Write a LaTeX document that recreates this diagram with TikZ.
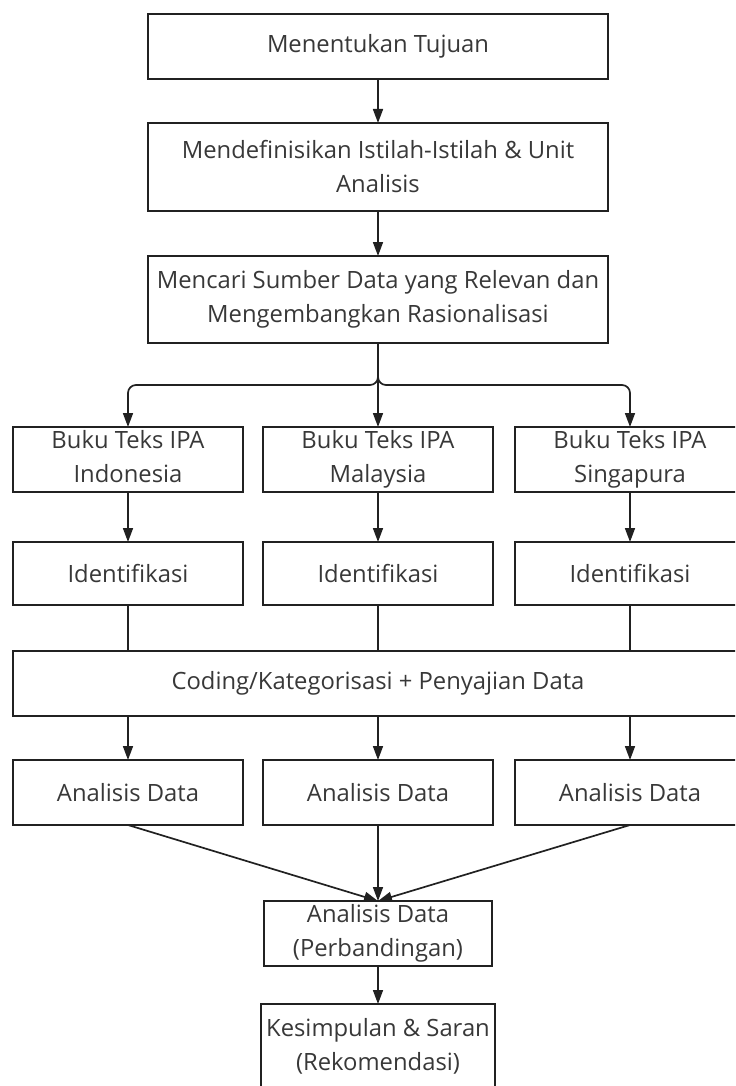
\documentclass[tikz,border=0pt]{standalone}
\usepackage{fontspec}
\setmainfont{Open Sans}
\usetikzlibrary{arrows.meta, positioning}
\definecolor{InkGray}{rgb}{0.22, 0.22, 0.22}
\definecolor{LineBlack}{rgb}{0.13, 0.13, 0.13}

\begin{document}
\begin{tikzpicture}[
    font=\fontsize{11.9}{17}\selectfont,
    box/.style={draw=LineBlack, line width=1.2pt, align=center, text=InkGray,
        inner xsep=2pt, inner ysep=0.5pt, outer sep=0pt, minimum width=230pt},
    cell/.style={box, minimum width=115pt, minimum height=32.5pt},
    pair/.style={cell, inner ysep=0pt, execute at begin node={\rule{0pt}{13pt}},
        execute at end node={\rule[-3pt]{0pt}{3pt}}},
    link/.style={-{Triangle[length=7pt, width=5pt]}, line width=0.85pt, LineBlack},
    tie/.style={line width=0.85pt, LineBlack},
]

% bingkai gambar
\useasboundingbox (-189pt,23.25pt) rectangle (178.5pt,-519.75pt);
\clip (-189pt,23.25pt) rectangle (178.5pt,-519.75pt);

% tahap awal
\node[box, minimum height=32.5pt] (goal) {Menentukan Tujuan};
\node[box, minimum height=44pt, below=22pt of goal] (terms)
    {Mendefinisikan Istilah-Istilah \& Unit\\Analisis};
\node[box, minimum height=43.5pt, below=22.5pt of terms] (sources)
    {Mencari Sumber Data yang Relevan dan\\Mengembangkan Rasionalisasi};

% tiga buku teks
\node[pair, below=42pt of sources]      (bukuMys) {Buku Teks IPA\\Malaysia};
\node[pair, left=10pt of bukuMys]       (bukuIdn) {Buku Teks IPA\\Indonesia};
\node[pair, right=11pt of bukuMys]      (bukuSgp) {Buku Teks IPA\\Singapura};

\node[cell, minimum height=31.5pt, below=25pt of bukuIdn] (identIdn) {Identifikasi};
\node[cell, minimum height=31.5pt, below=25pt of bukuMys] (identMys) {Identifikasi};
\node[cell, minimum height=31.5pt, below=25pt of bukuSgp] (identSgp) {Identifikasi};

% pengkodean bersama
\node[box, minimum width=365pt, minimum height=32.5pt, below=23pt of identMys] (coding)
    {Coding/Kategorisasi + Penyajian Data};

\node[cell, anchor=north] (anIdn) at ([yshift=-22pt]coding.south -| identIdn) {Analisis Data};
\node[cell, anchor=north] (anMys) at ([yshift=-22pt]coding.south -| identMys) {Analisis Data};
\node[cell, anchor=north] (anSgp) at ([yshift=-22pt]coding.south -| identSgp) {Analisis Data};

% perbandingan dan kesimpulan
\node[pair, minimum width=114pt, below=38pt of anMys] (compare)
    {Analisis Data\\(Perbandingan)};
\node[pair, minimum width=117pt, minimum height=43pt, below=19pt of compare] (concl)
    {Kesimpulan \& Saran\\(Rekomendasi)};

\draw[link] (goal) -- (terms);
\draw[link] (terms) -- (sources);

\draw[link, rounded corners=4pt] (sources.south) -- ++(0,-21pt) -| (bukuIdn.north);
\draw[link, rounded corners=4pt] (sources.south) -- ++(0,-21pt) -| (bukuSgp.north);
\draw[link] (sources) -- (bukuMys);

\draw[link] (bukuIdn) -- (identIdn);
\draw[link] (bukuMys) -- (identMys);
\draw[link] (bukuSgp) -- (identSgp);

\draw[tie] (identIdn) -- (identIdn |- coding.north);
\draw[tie] (identMys) -- (identMys |- coding.north);
\draw[tie] (identSgp) -- (identSgp |- coding.north);

\draw[link] (coding.south -| anIdn) -- (anIdn);
\draw[link] (coding.south -| anMys) -- (anMys);
\draw[link] (coding.south -| anSgp) -- (anSgp);

\draw[link] (anIdn.south) -- (compare.north);
\draw[link] (anMys) -- (compare);
\draw[link] (anSgp.south) -- (compare.north);

\draw[link] (compare) -- (concl);

\end{tikzpicture}
\end{document}
